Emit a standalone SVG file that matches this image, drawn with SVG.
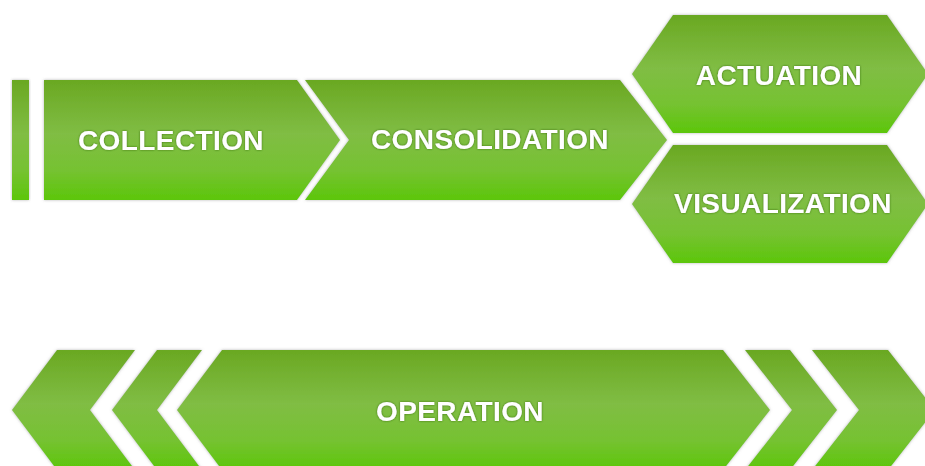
<svg xmlns="http://www.w3.org/2000/svg" width="925" height="466" viewBox="0 0 925 466">
  <defs>
    <linearGradient id="g" x1="0" y1="0" x2="0" y2="1">
      <stop offset="0" stop-color="#6aa822"/>
      <stop offset="0.45" stop-color="#80bd44"/>
      <stop offset="0.75" stop-color="#76c232"/>
      <stop offset="1" stop-color="#5cc60a"/>
    </linearGradient>
    <filter id="sh" x="-10%" y="-10%" width="120%" height="120%">
      <feDropShadow dx="0" dy="0" stdDeviation="1.5" flood-color="#777" flood-opacity="0.55"/>
    </filter>
    <filter id="ts" x="-10%" y="-20%" width="120%" height="140%">
      <feDropShadow dx="0" dy="0" stdDeviation="0.8" flood-color="#2c5a00" flood-opacity="0.8"/>
    </filter>
  </defs>
  <style>
    .s { fill: url(#g); filter: url(#sh); }
    .t { fill: #ffffff; font-family: "Liberation Sans", Arial, sans-serif; font-weight: bold; font-size: 28px; text-anchor: middle; letter-spacing: 0.4px; filter: url(#ts); }
  </style>
  <rect width="925" height="466" fill="#ffffff"/>
  <g id="bar">
    <rect class="s" x="12" y="80" width="17" height="120"/>
  </g>
  <g id="collection">
    <polygon class="s" points="44,80 297,80 340,140 297,200 44,200"/>
    <text class="t" x="171" y="150">COLLECTION</text>
  </g>
  <g id="consolidation">
    <polygon class="s" points="305,80 620,80 667,140 620,200 305,200 349,140"/>
    <text class="t" x="490" y="149">CONSOLIDATION</text>
  </g>
  <g id="actuation">
    <polygon class="s" points="673,15 887,15 928,74 887,133 673,133 632,74"/>
    <text class="t" x="779" y="85">ACTUATION</text>
  </g>
  <g id="visualization">
    <polygon class="s" points="673,145 887,145 928,204 887,263 673,263 632,204"/>
    <text class="t" x="783" y="213">VISUALIZATION</text>
  </g>
  <g id="chevron-left-1">
    <polygon class="s" points="57,350 135,350 90,410 135,470 57,470 12,410"/>
  </g>
  <g id="chevron-left-2">
    <polygon class="s" points="157,350 202,350 157,410 202,470 157,470 112,410"/>
  </g>
  <g id="operation">
    <polygon class="s" points="222,350 723,350 770,410 723,470 222,470 177,410"/>
    <text class="t" x="460" y="421">OPERATION</text>
  </g>
  <g id="chevron-right-1">
    <polygon class="s" points="745,350 790,350 837,410 790,470 745,470 792,410"/>
  </g>
  <g id="chevron-right-2">
    <polygon class="s" points="812,350 888,350 935,410 888,470 812,470 859,410"/>
  </g>
  <g id="connectors"></g>
</svg>
